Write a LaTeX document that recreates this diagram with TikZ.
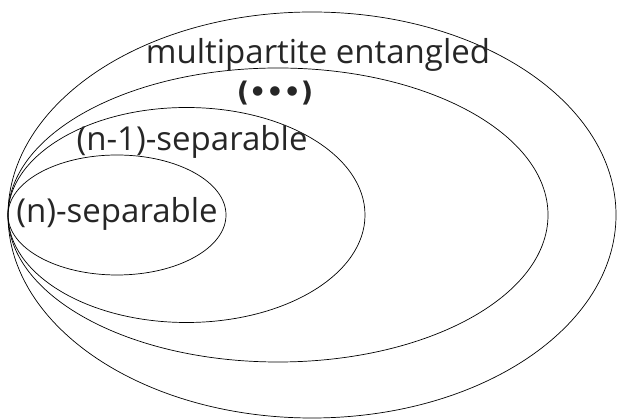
\documentclass[tikz,border=0pt]{standalone}
\usepackage{fontspec}
\setmainfont{Open Sans}
\newfontfamily\symfont{DejaVu Sans}
\begin{document}
\begin{tikzpicture}[x=1pt,y=1pt,
  set/.style={draw=black,line width=0.7pt},
  lbl/.style={inner sep=0pt,font=\fontsize{33}{38}\selectfont,text=black!85}]
\useasboundingbox (0,0) rectangle (617,419);
\draw[set] (312,204) ellipse [x radius=304, y radius=203];
\draw[set] (278,204) ellipse [x radius=270, y radius=147];
\draw[set] (186.5,204) ellipse [x radius=178.5, y radius=107.5];
\draw[set] (117,204) ellipse [x radius=109, y radius=60];
\node[lbl] (multi) at (318,364) {multipartite entangled};
\node[lbl,font=\symfont\bfseries\fontsize{27}{30}\selectfont] (dots) at (275,326) {(•••)};
\node[lbl] (nm1) at (192,277) {(n-1)-separable};
\node[lbl] (n) at (117,205) {(n)-separable};
\end{tikzpicture}
\end{document}
